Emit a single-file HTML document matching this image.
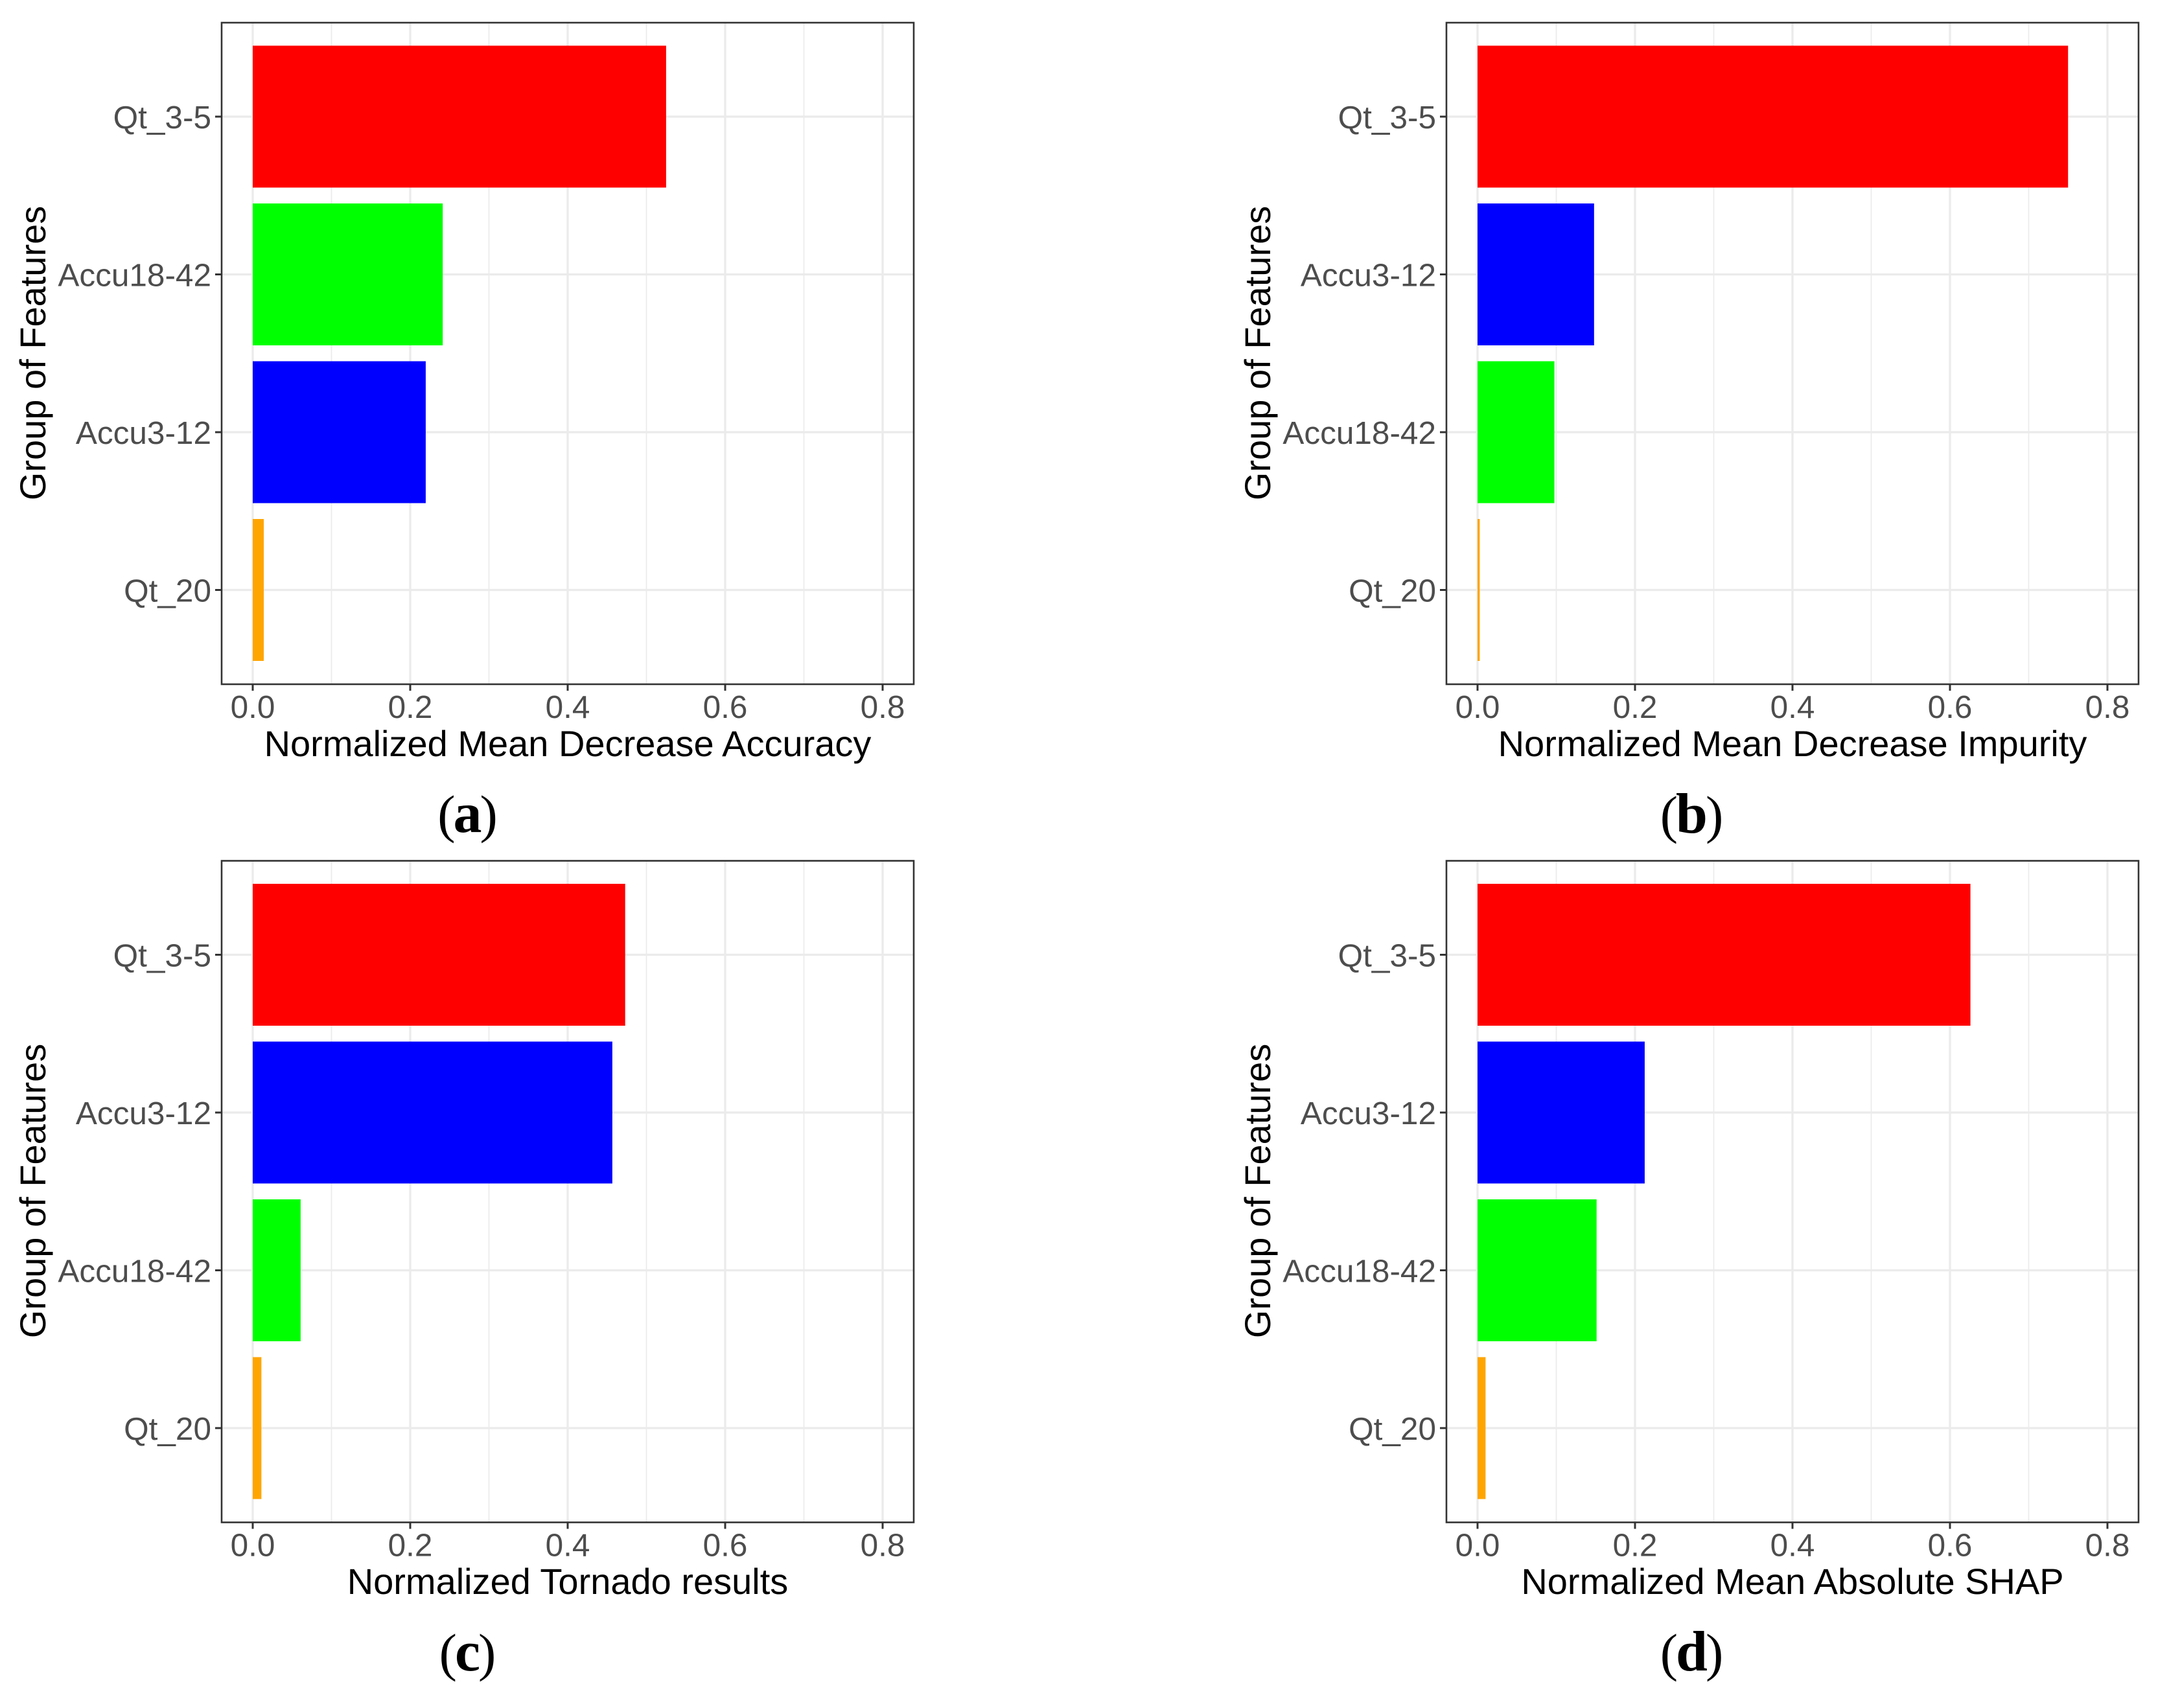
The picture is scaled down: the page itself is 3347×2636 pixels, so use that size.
<!DOCTYPE html>
<html lang="en">
<head>
<meta charset="utf-8">
<title>Normalized feature group importance</title>
<style>
  html, body { margin: 0; padding: 0; background: #ffffff; }
  svg { display: block; }
  text { font-family: "Liberation Sans", Arial, sans-serif; }
  .axis-title { font-size: 56px; fill: #000000; }
  .tick-label { font-size: 49.5px; fill: #4d4d4d; }
  .caption { font-family: "Liberation Serif", "Times New Roman", serif; font-size: 82px; letter-spacing: -3px; fill: #000000; }
  .caption tspan { font-weight: bold; font-size: 88px; }
</style>
</head>
<body>
<svg id="figure" xmlns="http://www.w3.org/2000/svg" width="3347" height="2636" viewBox="0 0 3347 2636">
  <rect x="0" y="0" width="3347" height="2636" fill="#ffffff"/>

  <g id="panel-a"></g>
  <g id="panel-b"></g>
  <g id="panel-c"></g>
  <g id="panel-d"></g>

  <text class="axis-title" x="876" y="1167" text-anchor="middle">Normalized Mean Decrease Accuracy</text>
  <text class="axis-title" x="2766" y="1167" text-anchor="middle">Normalized Mean Decrease Impurity</text>
  <text class="axis-title" x="876" y="2460" text-anchor="middle">Normalized Tornado results</text>
  <text class="axis-title" x="2766" y="2460" text-anchor="middle">Normalized Mean Absolute SHAP</text>

  <text class="axis-title" transform="translate(70 545) rotate(-90)" text-anchor="middle">Group of Features</text>
  <text class="axis-title" transform="translate(1960 545) rotate(-90)" text-anchor="middle">Group of Features</text>
  <text class="axis-title" transform="translate(70 1838) rotate(-90)" text-anchor="middle">Group of Features</text>
  <text class="axis-title" transform="translate(1960 1838) rotate(-90)" text-anchor="middle">Group of Features</text>

  <text class="caption" x="720" y="1284" text-anchor="middle">(<tspan>a</tspan>)</text>
  <text class="caption" x="2609" y="1285" text-anchor="middle">(<tspan>b</tspan>)</text>
  <text class="caption" x="720" y="2578" text-anchor="middle">(<tspan>c</tspan>)</text>
  <text class="caption" x="2609" y="2578" text-anchor="middle">(<tspan>d</tspan>)</text>
</svg>

<script>
// Chart data
const xTickValues = [0, 0.2, 0.4, 0.6, 0.8];
const xTickLabels = ["0.0", "0.2", "0.4", "0.6", "0.8"];
const xMinorValues = [0.1, 0.3, 0.5, 0.7];

const categoriesA = ["Qt_3-5", "Accu18-42", "Accu3-12", "Qt_20"];
const valuesA = [0.525, 0.2413, 0.2197, 0.014];

const categoriesB = ["Qt_3-5", "Accu3-12", "Accu18-42", "Qt_20"];
const valuesB = [0.75, 0.148, 0.0976, 0.0028];

const categoriesC = ["Qt_3-5", "Accu3-12", "Accu18-42", "Qt_20"];
const valuesC = [0.473, 0.4567, 0.0608, 0.011];

const categoriesD = ["Qt_3-5", "Accu3-12", "Accu18-42", "Qt_20"];
const valuesD = [0.626, 0.2123, 0.1512, 0.0102];

const groupColor = { "Qt_3-5": "#ff0000", "Accu18-42": "#00ff00", "Accu3-12": "#0000ff", "Qt_20": "#ffa500" };

// Layout
const NS = "http://www.w3.org/2000/svg";
const PANEL_W = 1068, PANEL_H = 1021;
const X_ZERO_OFFSET = 48, X_UNIT = 1215;
const ROW_FIRST = 145, ROW_STEP = 243.5, BAR_H = 219;

function make(parent, tag, attrs) {
  const el = document.createElementNS(NS, tag);
  for (const k in attrs) el.setAttribute(k, attrs[k]);
  parent.appendChild(el);
  return el;
}

function drawPanel(id, left, top, categories, values) {
  const root = document.getElementById(id);
  const xScale = v => left + X_ZERO_OFFSET + v * X_UNIT;
  const yScale = i => top + ROW_FIRST + i * ROW_STEP;
  const right = left + PANEL_W, bottom = top + PANEL_H;

  const bg = make(root, "rect", { x: left, y: top, width: PANEL_W, height: PANEL_H, fill: "#ffffff" });
  
  

  xMinorValues.forEach(v => {
    const g = make(root, "line", { x1: xScale(v), x2: xScale(v), y1: top, y2: bottom, stroke: "#ebebeb", "stroke-width": 1.7 });
    
    
  });
  xTickValues.forEach(v => {
    const g = make(root, "line", { x1: xScale(v), x2: xScale(v), y1: top, y2: bottom, stroke: "#ebebeb", "stroke-width": 3.3 });
    
    
  });
  categories.forEach((c, i) => {
    const g = make(root, "line", { x1: left, x2: right, y1: yScale(i), y2: yScale(i), stroke: "#ebebeb", "stroke-width": 3.3 });
    
    
  });

  categories.forEach((c, i) => {
    const bar = make(root, "rect", {
      x: xScale(0), y: yScale(i) - BAR_H / 2,
      width: xScale(values[i]) - xScale(0), height: BAR_H,
      fill: groupColor[c]
    });
    
    
  });

  const border = make(root, "rect", { x: left, y: top, width: PANEL_W, height: PANEL_H, fill: "none", stroke: "#333333", "stroke-width": 2.6 });
  
  

  categories.forEach((c, i) => {
    const t = make(root, "line", { x1: left - 10, x2: left, y1: yScale(i), y2: yScale(i), stroke: "#333333", "stroke-width": 3 });
    
    
    const l = make(root, "text", { x: left - 16, y: yScale(i) + 18, "text-anchor": "end", class: "tick-label" });
    
    
    l.textContent = c;
  });

  xTickValues.forEach((v, i) => {
    const t = make(root, "line", { x1: xScale(v), x2: xScale(v), y1: bottom, y2: bottom + 10, stroke: "#333333", "stroke-width": 3 });
    
    
    const l = make(root, "text", { x: xScale(v), y: bottom + 52, "text-anchor": "middle", class: "tick-label" });
    
    
    l.textContent = xTickLabels[i];
  });
}

drawPanel("panel-a", 342, 35, categoriesA, valuesA);
drawPanel("panel-b", 2232, 35, categoriesB, valuesB);
drawPanel("panel-c", 342, 1328.5, categoriesC, valuesC);
drawPanel("panel-d", 2232, 1328.5, categoriesD, valuesD);
</script>
</body>
</html>
